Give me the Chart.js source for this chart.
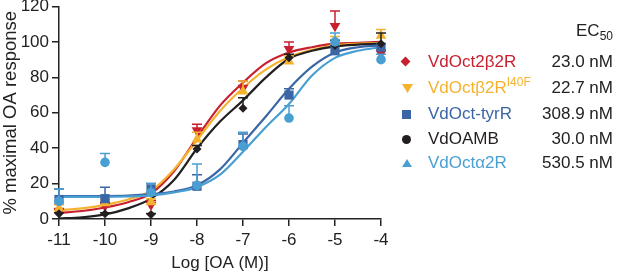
<!DOCTYPE html>
<html>
<head>
<meta charset="utf-8">
<script src="https://cdn.jsdelivr.net/npm/chart.js@4/dist/chart.umd.min.js"></script>
<style>
body { margin:0; background:#fff; font-family:'Liberation Sans', Arial, sans-serif; }
#wrap { position:relative; width:617px; height:274px; }
#key { position:absolute; left:0; top:0; width:617px; height:274px; pointer-events:none; font-size:17px; color:#222; }
#key > div { position:absolute; white-space:nowrap; line-height:20px; }
#key sub { font-size:12px; vertical-align:-4px; line-height:0; }
#key sup { font-size:12px; vertical-align:7px; line-height:0; }
</style>
</head>
<body>
<div id="wrap"><canvas id="c" width="617" height="274"></canvas><div id="key"></div></div>
<script>
// measured points, log dose
const doses = [-11, -10, -9, -8, -7, -6, -5, -4]
const oct2b2r = [4, 7.5, 8, 50, 74, 96, 109, 93.5]
const oct2b2rErr = [2, 2, 2.5, 3.5, 4, 4, 8.5, 2]
const b2rI40F = [6, 9, 9.5, 45, 72, 89, 100, 103.5]
const b2rI40FErr = [2, 2, 2, 4, 6, 3, 3, 3.5]
const tyrR = [11, 11.5, 17, 18.5, 42, 70, 95, 97]
const tyrRErr = [6, 6.5, 3, 6.5, 6, 3.5, 3, 2]
const oamb = [3, 3, 2.6, 39.5, 62.5, 91, 98, 99]
const oambErr = [0.5, 0.5, 0.5, 2, 6, 2, 3, 6]
const a2r = [10, 32, 15, 19, 41, 57, 100, 90]
const a2rErr = [7, 5, 5, 12, 8, 7, 5, 3]

// fitted curves, every half decade
const fitX = [-11, -10.5, -10, -9.5, -9, -8.5, -8, -7.5, -7, -6.5, -6, -5.5, -5, -4.5, -4]
const oct2b2rFit = [3.5, 4.5, 6.5, 9.5, 14.5, 27, 46, 64, 77, 88, 94, 97, 99, 99.5, 100]
const b2rI40FFit = [5, 6, 8, 11, 16, 28, 44.5, 61, 74, 84.5, 91.5, 95.5, 98, 99, 99.5]
const tyrRFit = [13, 13, 13, 13.2, 14, 15.5, 19, 28, 43, 58, 73.5, 86, 94, 97, 98]
const oambFit = [0.3, 1, 2.6, 6, 11.5, 22, 39.8, 55, 67, 80, 90.5, 95, 97.5, 98.5, 99]
const a2rFit = [12.5, 12.5, 12.5, 12.7, 13.3, 15, 18, 25, 38, 52, 65, 81, 91, 95, 97]

const xTicks = [-11, -10, -9, -8, -7, -6, -5, -4]
const yTicks = [0, 20, 40, 60, 80, 100, 120]

const keyNames = ['VdOct2β2R', 'VdOctβ2R', 'VdOct-tyrR', 'VdOAMB', 'VdOctα2R']
const keySup = ['', 'I40F', '', '', '']
const keyEC50 = ['23.0 nM', '22.7 nM', '308.9 nM', '30.0 nM', '530.5 nM']

const red = '#c8202f', yellow = '#f4b22f', blue = '#3b66a6', black = '#231f20', light = '#4a9fd2'

const pts = (xs, ys) => xs.map((x, i) => ({x: x, y: ys[i]}))

const curve = (ys, color) => ({
	data: pts(fitX, ys), showLine: true, borderColor: color, borderWidth: 2.2,
	pointRadius: 0, cubicInterpolationMode: 'monotone', order: 10
})
const marks = (ys, err, color, style, r, rot) => ({
	data: pts(doses, ys), err: err, borderColor: color, backgroundColor: color,
	pointStyle: style, pointRadius: r, pointRotation: rot || 0, borderWidth: 0, clip: false, order: 1
})

//error bars, upper half only, drawn just under each marker set
const errorBars = {
	id: 'errorBars',
	beforeDatasetDraw(chart, args) {
		const ds = chart.data.datasets[args.index]
		if (!ds.err) return
		const ctx = chart.ctx, y = chart.scales.y
		ctx.save()
		ctx.strokeStyle = ds.borderColor
		ctx.lineWidth = 1.5
		args.meta.data.forEach((p, i) => {
			const top = y.getPixelForValue(ds.data[i].y + ds.err[i])
			ctx.beginPath()
			ctx.moveTo(p.x, p.y); ctx.lineTo(p.x, top)
			ctx.moveTo(p.x - 5, top); ctx.lineTo(p.x + 5, top)
			ctx.stroke()
		})
		ctx.restore()
	}
}

Chart.defaults.font.family = "'Liberation Sans', Arial, sans-serif"
Chart.defaults.font.size = 17
Chart.defaults.color = '#222'

new Chart(document.getElementById('c'), {
	type: 'scatter',
	data: {
		datasets: [
			curve(a2rFit, light),
			curve(tyrRFit, blue),
			curve(oambFit, black),
			curve(b2rI40FFit, yellow),
			curve(oct2b2rFit, red),
			marks(a2r, a2rErr, light, 'circle', 4.8),
			marks(oamb, oambErr, black, 'rectRot', 4.5),
			marks(tyrR, tyrRErr, blue, 'rect', 6.5),
			marks(b2rI40F, b2rI40FErr, yellow, 'triangle', 6.2),
			marks(oct2b2r, oct2b2rErr, red, 'triangle', 6.2, 180)
		]
	},
	options: {
		responsive: false,
		animation: false,
		layout: { padding: { top: 0, right: 236, left: 0, bottom: 0 } },
		plugins: { legend: { display: false }, tooltip: { enabled: false } },
		scales: {
			x: {
				type: 'linear', min: -11, max: -4,
				afterBuildTicks: s => { s.ticks = xTicks.map(v => ({value: v})) },
				afterFit: s => { s.height = 55 },
				grid: { drawOnChartArea: false, tickLength: 7, color: '#222', lineWidth: 1.5 },
				border: { color: '#222', width: 1.5 },
				ticks: { padding: 4, color: '#222' },
				title: { display: true, text: 'Log [OA (M)]', padding: { top: 0, bottom: 0 }, color: '#222' }
			},
			y: {
				min: 0, max: 120,
				afterBuildTicks: s => { s.ticks = yTicks.map(v => ({value: v})) },
				afterFit: s => { s.width = 59; s.paddingTop = 6; s.paddingBottom = 0 },
				grid: { drawOnChartArea: false, tickLength: 7, color: '#222', lineWidth: 1.5 },
				border: { color: '#222', width: 1.5 },
				ticks: { padding: 3, color: '#222' },
				title: { display: true, text: '% maximal OA response', font: { size: 18.5 }, padding: { top: 0, bottom: 1 }, color: '#222' }
			}
		}
	},
	plugins: [errorBars]
})

//legend with EC50 column
const key = document.getElementById('key')
const keyColors = [red, yellow, blue, black, light]
const keyShapes = [
	'width:7px;height:7px;transform:rotate(45deg);',
	'width:11px;height:9px;clip-path:polygon(0 0,100% 0,50% 100%);',
	'width:9px;height:9px;',
	'width:9px;height:9px;border-radius:50%;',
	'width:10px;height:8px;clip-path:polygon(50% 0,100% 100%,0 100%);'
]
const rowY = [62, 88, 114, 139, 163]

const head = document.createElement('div')
head.innerHTML = 'EC<sub>50</sub>'
head.style.cssText = 'right:4px; top:' + (31 - 10) + 'px;'
key.appendChild(head)

keyNames.forEach((n, i) => {
	const m = document.createElement('div')
	m.style.cssText = keyShapes[i] + 'background:' + keyColors[i] + '; left:' + 407 + 'px; top:' + rowY[i] + 'px; margin-left:-5px; margin-top:-4px;'
	key.appendChild(m)
	const t = document.createElement('div')
	t.innerHTML = n + (keySup[i] ? '<sup>' + keySup[i] + '</sup>' : '')
	t.style.cssText = 'left:428px; top:' + (rowY[i] - 10) + 'px; color:' + keyColors[i] + ';'
	key.appendChild(t)
	const v = document.createElement('div')
	v.textContent = keyEC50[i]
	v.style.cssText = 'right:4px; top:' + (rowY[i] - 10) + 'px;'
	key.appendChild(v)
})
</script>
</body>
</html>
